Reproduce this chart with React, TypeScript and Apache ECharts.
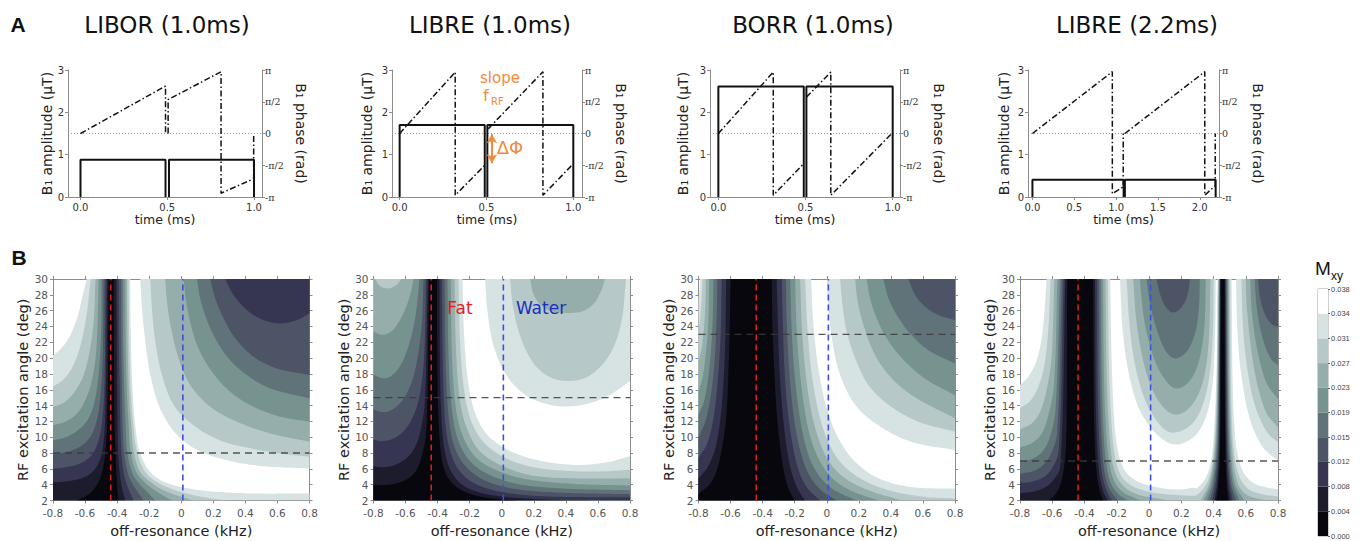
import React, { useEffect, useRef } from 'react';
import * as echarts from 'echarts';

// ---------- colour levels (Mxy) ----------
const BAND_COLORS = ['#07070d', '#1d1c2d', '#363552', '#4c5466', '#5f7379', '#77938f', '#95aeab', '#b6c9c8', '#d7e2e2', '#ffffff'];
const CBAR_LABELS = ['0.000', '0.004', '0.008', '0.012', '0.015', '0.019', '0.023', '0.027', '0.031', '0.034', '0.038'];

// ---------- panel A : pulse shapes ----------
const PANEL_TITLES = ['LIBOR (1.0ms)', 'LIBRE (1.0ms)', 'BORR (1.0ms)', 'LIBRE (2.2ms)'];
const TIME_RANGES = [[-0.072, 1.046], [-0.044, 1.05], [-0.048, 1.042], [-0.053, 2.23]];
const TIME_TICKS = [[0, 0.5, 1], [0, 0.5, 1], [0, 0.5, 1], [0, 0.5, 1, 1.5, 2]];
const PHASE_TICK_LABELS: Record<string, string> = { '-1': '-π', '-0.5': '-π/2', '0': '0', '0.5': 'π/2', '1': 'π' };

// amplitude (µT) vs time (ms)
const liborAmp = [[0, 0], [0, 0.88], [0.49, 0.88], [0.49, 0], [0.5, '-'], [0.51, 0], [0.51, 0.88], [1.0, 0.88], [1.0, 0]];
const libre1Amp = [[0, 0], [0, 1.7], [0.49, 1.7], [0.49, 0], [0.5, '-'], [0.505, 0], [0.505, 1.7], [1.0, 1.7], [1.0, 0]];
const borrAmp = [[0, 0], [0, 2.61], [0.49, 2.61], [0.49, 0], [0.5, '-'], [0.505, 0], [0.505, 2.61], [1.0, 2.61], [1.0, 0]];
const libre2Amp = [[0, 0], [0, 0.41], [1.09, 0.41], [1.09, 0], [1.1, '-'], [1.105, 0], [1.105, 0.41], [2.19, 0.41], [2.19, 0]];
// phase (units of π) vs time (ms)
const liborPhase = [[0, 0], [0.49, 0.747], [0.49, 0], [0.5, '-'], [0.505, 0], [0.505, 0.533], [0.81, 0.973], [0.81, -0.94], [0.998, -0.713], [0.998, 0]];
const libre1Phase = [[0, 0], [0.32, 0.967], [0.32, -0.973], [0.487, -0.51], [0.5, '-'], [0.51, 0.073], [0.825, 0.973], [0.825, -0.973], [0.995, -0.49]];
const borrPhase = [[0, 0], [0.315, 0.967], [0.315, -0.973], [0.49, -0.473], [0.5, '-'], [0.505, 0.573], [0.645, 0.967], [0.645, -0.973], [0.995, 0]];
const libre2Phase = [[0, 0], [0.955, 0.973], [0.955, -0.947], [1.085, -0.84], [1.085, 0], [1.095, '-'], [1.105, 0], [2.06, 0.973], [2.06, -0.973], [2.185, -0.82], [2.185, 0]];
const AMPS = [liborAmp, libre1Amp, borrAmp, libre2Amp];
const PHASES = [liborPhase, libre1Phase, borrPhase, libre2Phase];
// orange annotations (time ms, phase/π)
const slopeArrow = [[0.492, 0.11], [0.789, 1.02]];
const deltaPhiArrow = [[0.531, -0.01], [0.531, -0.47]];

// ---------- panel B : contour maps ----------
// each row: [level k, x1, y1, x2, y2, ...] = boundary of region where Mxy < level k
// "trough" rows are closed along the bottom edge, "bowl" rows along the top-right corner
const liborTrough = [
  [9, -0.8, 20.3, -0.75, 21.2, -0.7, 22.6, -0.65, 25, -0.62, 27.5, -0.59, 30, -0.318, 30, -0.314, 22.1, -0.303, 15.7, -0.287, 11.5, -0.26, 8.2, -0.193, 5.6, -0.089, 4.2, 0.118, 3.3, 0.43, 2.9, 0.8, 2.9],
  [8, -0.8, 16.4, -0.74, 17.2, -0.68, 18.8, -0.63, 21.5, -0.59, 25.5, -0.565, 30, -0.328, 30, -0.324, 22.1, -0.314, 15.7, -0.299, 11.5, -0.276, 8.2, -0.224, 5.6, -0.141, 4.2, -0.006, 3.1, 0.16, 2.35, 0.285, 2],
  [7, -0.8, 13.8, -0.73, 14.4, -0.67, 15.6, -0.61, 17.8, -0.57, 21, -0.545, 25, -0.535, 30, -0.339, 30, -0.335, 22.1, -0.326, 15.7, -0.312, 11.5, -0.297, 8.2, -0.256, 5.6, -0.183, 4.2, -0.089, 3.1, 0.077, 2],
  [6, -0.8, 11.5, -0.72, 12, -0.65, 13, -0.6, 14.6, -0.56, 17, -0.53, 21, -0.515, 30, -0.349, 30, -0.347, 22.1, -0.339, 15.7, -0.328, 11.5, -0.316, 8.2, -0.281, 5.6, -0.224, 4.2, -0.152, 3.1, -0.058, 2],
  [5, -0.8, 9.6, -0.72, 10, -0.65, 10.8, -0.59, 12, -0.55, 13.8, -0.52, 17, -0.5, 23, -0.497, 30, -0.364, 30, -0.362, 22.1, -0.355, 15.7, -0.347, 11.5, -0.337, 8.2, -0.308, 5.6, -0.266, 4.2, -0.214, 3.1, -0.162, 2],
  [4, -0.8, 7.8, -0.72, 8.1, -0.64, 8.7, -0.58, 9.7, -0.54, 11.2, -0.51, 14, -0.49, 20, -0.484, 30, -0.376, 30, -0.374, 22.1, -0.37, 15.7, -0.366, 11.5, -0.357, 8.2, -0.335, 5.6, -0.308, 4.2, -0.272, 3.1, -0.235, 2],
  [3, -0.8, 6, -0.72, 6.2, -0.64, 6.6, -0.58, 7.3, -0.535, 8.5, -0.5, 11, -0.48, 16, -0.472, 30, -0.391, 30, -0.389, 22.1, -0.384, 15.7, -0.38, 11.5, -0.374, 8.2, -0.36, 5.6, -0.343, 4.2, -0.322, 3.1, -0.297, 2],
  [2, -0.8, 4.3, -0.72, 4.4, -0.64, 4.7, -0.58, 5.2, -0.53, 6.2, -0.495, 8, -0.475, 12, -0.462, 30, -0.405, 30, -0.403, 22.1, -0.4, 15.7, -0.398, 11.5, -0.395, 8.2, -0.385, 5.6, -0.376, 4.2, -0.364, 3.1, -0.349, 2],
  [1, -0.65, 2, -0.6, 2.5, -0.55, 3.3, -0.51, 4.6, -0.48, 7, -0.462, 12, -0.452, 30, -0.422, 30, -0.42, 22.1, -0.418, 15.7, -0.416, 11.5, -0.411, 8.2, -0.405, 5.6, -0.401, 4.2, -0.397, 3.1, -0.391, 2],
];
const liborBowl = [
  [9, -0.256, 30, -0.245, 26.3, -0.224, 22.1, -0.193, 17.9, -0.131, 13.6, -0.027, 10.3, 0.118, 8.2, 0.326, 6.9, 0.534, 6.3, 0.8, 6.05],
  [8, -0.193, 30, -0.183, 26.3, -0.162, 22.1, -0.121, 17.9, -0.048, 14.1, 0.077, 11.5, 0.243, 9.6, 0.43, 8.6, 0.617, 7.95, 0.8, 7.53],
  [7, -0.1, 30, -0.089, 27.1, -0.064, 23.8, -0.017, 20, 0.056, 16.6, 0.181, 13.85, 0.347, 11.96, 0.555, 10.48, 0.8, 9.43],
  [6, 0.015, 30, 0.031, 27.1, 0.06, 24.2, 0.108, 21.2, 0.191, 18.3, 0.305, 15.75, 0.451, 13.85, 0.617, 12.6, 0.8, 11.96],
  [5, 0.098, 30, 0.118, 27.55, 0.156, 25.03, 0.212, 22.5, 0.295, 19.97, 0.409, 17.86, 0.555, 16.17, 0.8, 14.91],
  [4, 0.181, 30, 0.212, 27.55, 0.264, 25.03, 0.337, 22.5, 0.451, 20.18, 0.596, 18.7, 0.8, 17.86],
  [3, 0.274, 30, 0.326, 27.98, 0.409, 26.08, 0.513, 24.81, 0.617, 24.39, 0.721, 24.81, 0.8, 25.66],
];
const libre1Trough = [
  [9, -0.8, 30, -0.245, 30, -0.235, 23, -0.21, 17, -0.165, 13, -0.09, 10.3, 0.03, 8.5, 0.2, 7.2, 0.45, 6.5, 0.65, 6.8, 0.8, 7.6],
  [8, -0.8, 30, -0.27, 30, -0.26, 22, -0.235, 16, -0.19, 12, -0.11, 9.3, 0.02, 7.4, 0.2, 6.2, 0.45, 5.7, 0.65, 5.7, 0.8, 5.9],
  [7, -0.8, 30, -0.79, 30, -0.76, 29.1, -0.71, 28.8, -0.66, 29.2, -0.625, 30, -0.295, 30, -0.285, 21, -0.26, 14.5, -0.215, 11, -0.14, 8.3, -0.01, 6.5, 0.18, 5.2, 0.45, 4.8, 0.8, 4.8],
  [6, -0.8, 23.4, -0.76, 23, -0.71, 23.1, -0.66, 24, -0.6, 26.3, -0.565, 28.5, -0.551, 30, -0.318, 30, -0.31, 20, -0.285, 13.5, -0.24, 10, -0.16, 7.4, -0.03, 5.8, 0.15, 4.7, 0.45, 4.1, 0.8, 3.9],
  [5, -0.8, 17.9, -0.75, 17.5, -0.7, 17.6, -0.64, 18.8, -0.59, 21, -0.545, 24.5, -0.522, 28, -0.513, 30, -0.339, 30, -0.33, 19, -0.305, 12.5, -0.26, 9, -0.18, 6.6, -0.05, 5, 0.12, 4, 0.4, 3.5, 0.8, 3.3],
  [4, -0.8, 13.5, -0.75, 13.2, -0.7, 13.3, -0.63, 14.4, -0.57, 16.5, -0.53, 19.5, -0.5, 24, -0.488, 30, -0.357, 30, -0.348, 18, -0.325, 11.5, -0.28, 8, -0.2, 5.8, -0.08, 4.3, 0.1, 3.4, 0.35, 3, 0.8, 2.8],
  [3, -0.8, 9.7, -0.75, 9.5, -0.69, 9.7, -0.62, 10.6, -0.56, 12.3, -0.515, 15, -0.485, 20, -0.472, 30, -0.374, 30, -0.365, 17, -0.345, 10.5, -0.3, 7, -0.23, 5, -0.12, 3.7, 0.05, 2.9, 0.3, 2.5, 0.8, 2.4],
  [2, -0.8, 6.3, -0.74, 6.2, -0.68, 6.4, -0.61, 7.1, -0.55, 8.4, -0.51, 10.5, -0.48, 14.5, -0.461, 30, -0.389, 30, -0.383, 16, -0.365, 9.5, -0.33, 6.3, -0.27, 4.4, -0.17, 3.2, 0, 2.5, 0.3, 2.1, 0.6, 2],
  [1, -0.8, 4, -0.74, 3.95, -0.67, 4.1, -0.6, 4.6, -0.54, 5.6, -0.5, 7.5, -0.47, 11, -0.453, 30, -0.405, 30, -0.4, 16, -0.385, 9, -0.36, 6, -0.31, 4.2, -0.22, 3, -0.08, 2.3, 0.1, 2],
];
const libre1Bowl = [
  [9, -0.104, 30, -0.09, 26, -0.05, 21.5, 0.03, 17.8, 0.15, 15.3, 0.3, 14.1, 0.42, 13.9, 0.55, 14.3, 0.67, 15.3, 0.76, 16.5, 0.8, 17.1],
  [8, 0.052, 30, 0.07, 26.5, 0.12, 22.5, 0.2, 19.3, 0.3, 17.6, 0.41, 17.1, 0.52, 17.5, 0.62, 19, 0.7, 21.5, 0.75, 25, 0.775, 30],
  [7, 0.177, 30, 0.2, 28, 0.26, 26.4, 0.34, 25.8, 0.42, 25.7, 0.5, 25.9, 0.57, 26.8, 0.62, 28.5, 0.644, 30],
];
const borrTrough = [
  [9, -0.8, 27.5, -0.793, 28.8, -0.79, 30, -0.098, 30, -0.083, 24.2, -0.052, 18.7, 0, 13.6, 0.073, 9.85, 0.177, 6.9, 0.322, 4.8, 0.53, 3.7, 0.8, 3.5],
  [8, -0.8, 23.5, -0.788, 25.5, -0.78, 28, -0.775, 30, -0.135, 30, -0.122, 24.2, -0.098, 18.7, -0.056, 13.6, 0, 9.85, 0.083, 6.9, 0.208, 4.8, 0.385, 3.3, 0.613, 2.46, 0.8, 2.25],
  [7, -0.8, 19.5, -0.78, 21.3, -0.765, 24, -0.757, 27, -0.754, 30, -0.166, 30, -0.156, 24.2, -0.135, 18.7, -0.1, 13.6, -0.052, 9.85, 0.015, 6.9, 0.114, 4.8, 0.26, 3.3, 0.468, 2],
  [6, -0.8, 15.8, -0.775, 17.5, -0.755, 20.5, -0.74, 24, -0.733, 30, -0.197, 30, -0.189, 24.2, -0.17, 18.7, -0.139, 13.6, -0.1, 9.85, -0.041, 6.9, 0.035, 4.8, 0.146, 3.3, 0.322, 2],
  [5, -0.8, 12.8, -0.765, 14.6, -0.74, 17.5, -0.72, 21.5, -0.71, 26, -0.707, 30, -0.228, 30, -0.22, 24.2, -0.204, 18.7, -0.176, 13.6, -0.143, 9.85, -0.098, 6.9, -0.035, 4.8, 0.048, 3.3, 0.187, 2],
  [4, -0.8, 10, -0.76, 11.8, -0.725, 15, -0.7, 19.5, -0.687, 25, -0.682, 30, -0.255, 30, -0.249, 24.2, -0.235, 18.7, -0.212, 13.6, -0.183, 9.85, -0.145, 6.9, -0.098, 4.8, -0.035, 3.3, 0.062, 2],
  [3, -0.8, 7.4, -0.75, 9, -0.71, 12, -0.68, 17, -0.662, 23, -0.655, 30, -0.28, 30, -0.274, 24.2, -0.264, 18.7, -0.245, 13.6, -0.22, 9.85, -0.191, 6.9, -0.156, 4.8, -0.11, 3.3, -0.041, 2],
  [2, -0.8, 4.8, -0.74, 6.3, -0.69, 9, -0.655, 14, -0.635, 21, -0.627, 30, -0.312, 30, -0.305, 24.2, -0.295, 18.7, -0.278, 13.6, -0.258, 9.85, -0.235, 6.9, -0.208, 4.8, -0.176, 3.3, -0.135, 2],
  [1, -0.8, 2.8, -0.72, 4.3, -0.67, 7, -0.63, 12, -0.61, 20, -0.6, 30, -0.343, 30, -0.339, 24.2, -0.328, 18.7, -0.314, 13.6, -0.297, 9.85, -0.278, 6.9, -0.258, 4.8, -0.235, 3.3, -0.201, 2],
];
const borrBowl = [
  [9, 0, 30, 0.011, 26.3, 0.035, 22.1, 0.083, 17.9, 0.177, 14.1, 0.322, 11.5, 0.53, 9.4, 0.8, 8.4],
  [8, 0.083, 30, 0.098, 26.7, 0.125, 23.3, 0.177, 20, 0.26, 16.6, 0.385, 14.1, 0.572, 11.96, 0.8, 10.7],
  [7, 0.177, 30, 0.193, 27.1, 0.229, 24.2, 0.291, 20.8, 0.385, 17.9, 0.53, 15.3, 0.8, 12.4],
  [6, 0.249, 30, 0.27, 27.55, 0.312, 25, 0.374, 22.5, 0.468, 20, 0.613, 17.4, 0.8, 15.3],
  [5, 0.353, 30, 0.385, 27.55, 0.437, 25.45, 0.52, 23.1, 0.634, 21, 0.8, 19.3],
  [4, 0.509, 30, 0.551, 28, 0.613, 26.5, 0.696, 25.45, 0.8, 24.8],
];
const libre2Trough = [
  [9, -0.8, 16.6, -0.75, 17.6, -0.7, 19.5, -0.67, 22, -0.65, 25.5, -0.635, 30, -0.24, 30, -0.232, 20, -0.215, 12, -0.19, 8, -0.15, 5.8, -0.08, 4.5, 0, 3.9, 0.1, 3.5, 0.2, 3.4, 0.3, 3.5, 0.35, 2],
  [8, -0.8, 13.7, -0.74, 14.5, -0.69, 16.2, -0.65, 19, -0.625, 23.5, -0.61, 30, -0.255, 30, -0.248, 19, -0.232, 11.5, -0.21, 7.5, -0.175, 5.2, -0.11, 3.9, -0.02, 3.2, 0.1, 2.8, 0.25, 2.6, 0.33, 2.5, 0.36, 2],
  [7, -0.8, 11, -0.73, 11.7, -0.68, 13, -0.64, 15.5, -0.605, 20, -0.587, 30, -0.27, 30, -0.263, 18, -0.248, 11, -0.228, 7, -0.195, 4.8, -0.14, 3.5, -0.06, 2.7, 0.04, 2.3, 0.12, 2],
  [6, -0.8, 8.7, -0.73, 9.2, -0.67, 10.3, -0.63, 12.3, -0.59, 16.5, -0.568, 30, -0.285, 30, -0.279, 17.5, -0.265, 10.5, -0.245, 6.6, -0.215, 4.4, -0.165, 3.1, -0.1, 2.4, -0.05, 2],
  [5, -0.8, 6.9, -0.72, 7.3, -0.66, 8.2, -0.615, 10, -0.58, 13.5, -0.552, 30, -0.298, 30, -0.293, 17, -0.28, 10, -0.262, 6.2, -0.235, 4.1, -0.19, 2.8, -0.14, 2.1, -0.13, 2],
  [4, -0.8, 5.4, -0.72, 5.7, -0.66, 6.4, -0.61, 7.8, -0.57, 10.5, -0.54, 30, -0.31, 30, -0.305, 16.5, -0.294, 9.6, -0.278, 5.9, -0.253, 3.8, -0.215, 2.5, -0.19, 2],
  [3, -0.8, 4.2, -0.72, 4.4, -0.65, 5, -0.6, 6.1, -0.56, 8.3, -0.529, 30, -0.322, 30, -0.318, 16, -0.308, 9.2, -0.293, 5.6, -0.27, 3.6, -0.24, 2.3, -0.225, 2],
  [2, -0.8, 2.9, -0.72, 3.1, -0.65, 3.6, -0.6, 4.4, -0.55, 6.3, -0.519, 30, -0.335, 30, -0.331, 15.5, -0.322, 8.8, -0.308, 5.3, -0.288, 3.4, -0.262, 2.2, -0.255, 2],
  [1, -0.62, 2, -0.58, 2.8, -0.55, 4, -0.525, 6.5, -0.512, 11, -0.507, 30, -0.346, 30, -0.343, 15, -0.335, 8.4, -0.322, 5, -0.305, 3.2, -0.285, 2],
  // second (narrow) trough near +0.46 kHz
  [9, 0.2, 2, 0.3, 3.6, 0.35, 4.8, 0.385, 7, 0.4, 10, 0.413, 15, 0.42, 20, 0.425, 30, 0.512, 30, 0.52, 16, 0.54, 9, 0.58, 5.8, 0.64, 4.3, 0.72, 3.7, 0.8, 3.4],
  [8, 0.25, 2, 0.33, 3.3, 0.37, 4.8, 0.4, 8, 0.418, 15, 0.428, 30, 0.503, 30, 0.51, 15, 0.528, 8, 0.565, 4.8, 0.62, 3.4, 0.7, 2.8, 0.8, 2.5],
  [7, 0.32, 2, 0.37, 4, 0.405, 8, 0.422, 15, 0.431, 30, 0.496, 30, 0.502, 15, 0.518, 8, 0.55, 4.2, 0.6, 2.8, 0.68, 2.2, 0.75, 2],
  [6, 0.34, 2, 0.38, 4, 0.412, 8, 0.426, 15, 0.434, 30, 0.49, 30, 0.496, 15, 0.508, 8, 0.535, 4, 0.59, 2],
  [5, 0.36, 2, 0.392, 4, 0.418, 8, 0.43, 15, 0.437, 30, 0.485, 30, 0.49, 15, 0.5, 8, 0.522, 4, 0.56, 2],
  [4, 0.378, 2, 0.402, 4, 0.424, 8, 0.433, 15, 0.439, 30, 0.48, 30, 0.485, 15, 0.493, 8, 0.51, 4, 0.54, 2],
  [3, 0.393, 2, 0.412, 4, 0.43, 8, 0.437, 15, 0.441, 30, 0.476, 30, 0.48, 15, 0.486, 8, 0.5, 4, 0.52, 2],
  [2, 0.406, 2, 0.422, 4, 0.435, 8, 0.44, 15, 0.443, 30, 0.472, 30, 0.475, 15, 0.48, 8, 0.49, 4, 0.505, 2],
  [1, 0.418, 2, 0.43, 4, 0.44, 8, 0.444, 15, 0.446, 30, 0.468, 30, 0.47, 15, 0.474, 8, 0.482, 4, 0.492, 2],
];
const libre2Bowl = [
  [9, -0.18, 30, -0.165, 24, -0.13, 18.5, -0.07, 14, 0, 11.5, 0.08, 9.8, 0.15, 9.1, 0.22, 9.3, 0.3, 10.5, 0.36, 13, 0.395, 17, 0.41, 23, 0.414, 30],
  [8, -0.139, 30, -0.12, 24, -0.085, 19, -0.03, 15, 0.04, 12.3, 0.12, 10.7, 0.2, 10.8, 0.28, 12, 0.34, 14.5, 0.38, 18.5, 0.397, 24, 0.401, 30],
  [7, -0.098, 30, -0.08, 25, -0.045, 20.5, 0.01, 16.5, 0.08, 14, 0.15, 12.9, 0.22, 13.2, 0.29, 14.8, 0.34, 17.5, 0.37, 22, 0.381, 30],
  [6, -0.057, 30, -0.035, 25.5, 0, 22, 0.05, 19, 0.11, 17, 0.16, 16.2, 0.22, 16.5, 0.28, 18, 0.32, 20.5, 0.345, 24.5, 0.352, 30],
  [5, -0.016, 30, 0.01, 26.5, 0.05, 23.5, 0.1, 21, 0.15, 20, 0.2, 20.2, 0.25, 21.3, 0.29, 23.5, 0.31, 26.5, 0.315, 30],
  [4, 0.046, 30, 0.07, 28, 0.1, 26.6, 0.14, 25.8, 0.18, 26, 0.22, 27, 0.245, 28.5, 0.253, 30],
  [9, 0.54, 30, 0.545, 25, 0.56, 20, 0.59, 15.5, 0.63, 12, 0.69, 9.2, 0.75, 7.8, 0.8, 7.1],
  [8, 0.573, 30, 0.578, 26, 0.59, 22, 0.615, 18, 0.65, 14.5, 0.7, 11.8, 0.75, 10.2, 0.8, 9.4],
  [7, 0.6, 30, 0.605, 27, 0.62, 23.5, 0.645, 19.5, 0.68, 16, 0.73, 13, 0.8, 11.2],
  [6, 0.628, 30, 0.635, 26.5, 0.655, 23, 0.685, 19.8, 0.73, 16.8, 0.8, 14.8],
  [5, 0.655, 30, 0.665, 27, 0.685, 24.2, 0.72, 21.5, 0.76, 19.8, 0.8, 19.1],
  [4, 0.676, 30, 0.69, 27.5, 0.72, 25.5, 0.76, 24.3, 0.8, 23.9],
];
const TROUGHS = [liborTrough, libre1Trough, borrTrough, libre2Trough];
const BOWLS = [liborBowl, libre1Bowl, borrBowl, libre2Bowl];
const FREQ_RANGE = [-0.8, 0.8];
const ANGLE_RANGE = [2, 30];
const FAT_FREQ = -0.44;
const WATER_FREQ = 0.01;
const CHOSEN_ANGLES = [8, 15, 23, 7];

// ---------- layout ----------
const TOP_LAYOUT = [
  { left: 68, width: 194, cx: 167, ampGap: 14 },
  { left: 392, width: 190, cx: 490, ampGap: 18 },
  { left: 710, width: 190, cx: 813, ampGap: 20 },
  { left: 1028, width: 191, cx: 1137, ampGap: 17 },
];
const BOTTOM_LAYOUT = [
  { left: 53, width: 256.5 },
  { left: 373.5, width: 256.5 },
  { left: 698.5, width: 256.5 },
  { left: 1020, width: 258 },
];
const FONT = 'DejaVu Sans';
const ORANGE = '#f28a3a';
const AXIS_GRAY = '#8c8c8c';

type Region = { k: number; pts: number[] };
function buildRegions(trough: number[][], bowl: number[][]): Region[] {
  const out: Region[] = [];
  trough.forEach((r) => out.push({ k: r[0], pts: [FREQ_RANGE[0], ANGLE_RANGE[0], ...r.slice(1), FREQ_RANGE[1], ANGLE_RANGE[0]] }));
  bowl.forEach((r) => out.push({ k: r[0], pts: [...r.slice(1), FREQ_RANGE[1], ANGLE_RANGE[1]] }));
  out.sort((a, b) => b.k - a.k);
  return out;
}

// smooth drawing of a digitised closed outline (frame edges stay straight)
function smoothOutline(raw: number[], pix: number[][]): number[][] {
  const n = pix.length;
  const eps = 1e-6;
  const side = (i: number) => {
    const x = raw[2 * i], y = raw[2 * i + 1];
    return {
      l: Math.abs(x - FREQ_RANGE[0]) < eps, r: Math.abs(x - FREQ_RANGE[1]) < eps,
      b: Math.abs(y - ANGLE_RANGE[0]) < eps, t: Math.abs(y - ANGLE_RANGE[1]) < eps,
    };
  };
  const sides = pix.map((_, i) => side(i));
  const edgeSeg = (i: number, j: number) => {
    const a = sides[i], b = sides[j];
    return (a.l && b.l) || (a.r && b.r) || (a.b && b.b) || (a.t && b.t);
  };
  const dirs = pix.map((p, i) => {
    const prev = (i - 1 + n) % n, next = (i + 1) % n;
    const pe = edgeSeg(prev, i), ne = edgeSeg(i, next);
    let dx: number, dy: number;
    if (pe && !ne) { dx = pix[next][0] - p[0]; dy = pix[next][1] - p[1]; }
    else if (ne && !pe) { dx = p[0] - pix[prev][0]; dy = p[1] - pix[prev][1]; }
    else { dx = pix[next][0] - pix[prev][0]; dy = pix[next][1] - pix[prev][1]; }
    const len = Math.hypot(dx, dy) || 1;
    return [dx / len, dy / len];
  });
  const out: number[][] = [];
  for (let i = 0; i < n; i++) {
    const j = (i + 1) % n;
    const p0 = pix[i], p1 = pix[j];
    out.push(p0);
    if (edgeSeg(i, j)) continue;
    const L = Math.hypot(p1[0] - p0[0], p1[1] - p0[1]);
    if (L < 2) continue;
    const m0 = [dirs[i][0] * L, dirs[i][1] * L];
    const m1 = [dirs[j][0] * L, dirs[j][1] * L];
    const steps = Math.min(24, Math.ceil(L / 3));
    for (let s = 1; s < steps; s++) {
      const t = s / steps, t2 = t * t, t3 = t2 * t;
      const h00 = 2 * t3 - 3 * t2 + 1, h10 = t3 - 2 * t2 + t, h01 = -2 * t3 + 3 * t2, h11 = t3 - t2;
      out.push([
        h00 * p0[0] + h10 * m0[0] + h01 * p1[0] + h11 * m1[0],
        h00 * p0[1] + h10 * m0[1] + h01 * p1[1] + h11 * m1[1],
      ]);
    }
  }
  return out;
}

function buildOption() {
  const grid: any[] = [];
  const xAxis: any[] = [];
  const yAxis: any[] = [];
  const series: any[] = [];
  const graphic: any[] = [];

  const tickLabel = { fontFamily: FONT, fontSize: 10, color: '#333' };
  const line = (show = true) => ({ show, onZero: false, lineStyle: { color: AXIS_GRAY, width: 1 } });

  // ---- top row ----
  TOP_LAYOUT.forEach((L, i) => {
    grid.push({ left: L.left, top: 70, width: L.width, height: 127, containLabel: false, outerBoundsMode: 'none' });
    xAxis.push({
      type: 'value', gridIndex: i, min: TIME_RANGES[i][0], max: TIME_RANGES[i][1],
      name: 'time (ms)', nameLocation: 'middle', nameGap: 16,
      nameTextStyle: { fontFamily: FONT, fontSize: 12.5, color: '#222' },
      axisLine: line(),
      axisTick: { show: true, customValues: TIME_TICKS[i], length: 3, lineStyle: { color: AXIS_GRAY } },
      axisLabel: { customValues: TIME_TICKS[i], formatter: (v: number) => v.toFixed(1), margin: 5, ...tickLabel },
      splitLine: { show: false },
    });
    yAxis.push({
      type: 'value', gridIndex: i, min: 0, max: 3, interval: 1, position: 'left',
      name: 'B₁ amplitude (μT)', nameLocation: 'middle', nameGap: L.ampGap,
      nameTextStyle: { fontFamily: FONT, fontSize: 14, color: '#222' },
      axisLine: line(),
      axisTick: { show: true, length: 3, lineStyle: { color: AXIS_GRAY } },
      axisLabel: { margin: 4, ...tickLabel },
      splitLine: { show: false },
    });
    yAxis.push({
      type: 'value', gridIndex: i, min: -1, max: 1, interval: 0.5, position: 'right',
      name: 'B₁ phase (rad)', nameLocation: 'middle', nameGap: 32, nameRotate: -90,
      nameTextStyle: { fontFamily: FONT, fontSize: 14, color: '#222' },
      axisLine: line(),
      axisTick: { show: true, length: 3, lineStyle: { color: AXIS_GRAY } },
      axisLabel: { margin: 3, fontFamily: 'DejaVu Serif', fontSize: 9.5, color: '#333', formatter: (v: number) => PHASE_TICK_LABELS[String(Math.round(v * 2) / 2)] ?? '' },
      splitLine: { show: false },
    });
    series.push({
      type: 'line', xAxisIndex: i, yAxisIndex: 2 * i + 1, silent: true, symbol: 'none', z: 2,
      data: [[TIME_RANGES[i][0], 0], [TIME_RANGES[i][1], 0]],
      lineStyle: { color: '#9a9a9a', width: 1, type: [1, 2] },
    });
    series.push({
      type: 'line', xAxisIndex: i, yAxisIndex: 2 * i, silent: true, symbol: 'none', z: 3,
      data: AMPS[i], connectNulls: false,
      lineStyle: { color: '#111', width: 2 },
    });
    const phaseSeries: any = {
      type: 'line', xAxisIndex: i, yAxisIndex: 2 * i + 1, silent: true, symbol: 'none', z: 4,
      data: PHASES[i], connectNulls: false, clip: false,
      lineStyle: { color: '#111', width: 1.5, type: [6, 2.5, 1.5, 2.5] },
    };
    if (i === 1) {
      phaseSeries.markLine = {
        silent: true, symbol: ['arrow', 'arrow'], symbolSize: [8, 9], label: { show: false },
        lineStyle: { color: ORANGE, width: 2, type: 'solid' },
        data: [
          [{ coord: slopeArrow[0] }, { coord: slopeArrow[1] }],
          [{ coord: deltaPhiArrow[0] }, { coord: deltaPhiArrow[1] }],
        ],
      };
    }
    series.push(phaseSeries);
    graphic.push({ type: 'text', x: L.cx, y: 25, style: { text: PANEL_TITLES[i], fontFamily: FONT, fontSize: 23, fill: '#111', align: 'center', verticalAlign: 'middle' } });
  });

  // ---- bottom row ----
  BOTTOM_LAYOUT.forEach((L, j) => {
    const g = 4 + j;
    grid.push({ left: L.left, top: 279, width: L.width, height: 221.5, containLabel: false, outerBoundsMode: 'none' });
    const xi = xAxis.length;
    xAxis.push({
      type: 'value', gridIndex: g, min: FREQ_RANGE[0], max: FREQ_RANGE[1], interval: 0.2,
      name: 'off-resonance (kHz)', nameLocation: 'middle', nameGap: 23,
      nameTextStyle: { fontFamily: FONT, fontSize: 14.5, color: '#222' },
      axisLine: line(),
      axisTick: { show: true, length: 3, lineStyle: { color: AXIS_GRAY } },
      axisLabel: { fontFamily: FONT, fontSize: 10.5, color: '#555', margin: 7, formatter: (v: number) => (Math.abs(v) < 1e-9 ? '0' : v.toFixed(1)) },
      splitLine: { show: false },
    });
    xAxis.push({
      type: 'value', gridIndex: g, min: FREQ_RANGE[0], max: FREQ_RANGE[1], interval: 0.2, position: 'top',
      axisLine: line(),
      axisTick: { show: true, length: 3, lineStyle: { color: AXIS_GRAY } },
      axisLabel: { show: false }, splitLine: { show: false },
    });
    const yi = yAxis.length;
    yAxis.push({
      type: 'value', gridIndex: g, min: ANGLE_RANGE[0], max: ANGLE_RANGE[1], interval: 2,
      name: 'RF excitation angle (deg)', nameLocation: 'middle', nameGap: 22,
      nameTextStyle: { fontFamily: FONT, fontSize: 14.5, color: '#222' },
      axisLine: line(),
      axisTick: { show: true, length: 3, lineStyle: { color: AXIS_GRAY } },
      axisLabel: { fontFamily: FONT, fontSize: 10.5, color: '#555', margin: 5 },
      splitLine: { show: false },
    });
    yAxis.push({
      type: 'value', gridIndex: g, min: ANGLE_RANGE[0], max: ANGLE_RANGE[1], interval: 2, position: 'right',
      axisLine: line(),
      axisTick: { show: true, length: 3, lineStyle: { color: AXIS_GRAY } },
      axisLabel: { show: false }, splitLine: { show: false },
    });
    const regions = buildRegions(TROUGHS[j], BOWLS[j]);
    series.push({
      type: 'custom', xAxisIndex: xi, yAxisIndex: yi, silent: true, clip: true, z: 1,
      data: regions.map((r) => [r.pts[0], r.pts[1]]),
      renderItem: (params: any, api: any) => {
        const r = regions[params.dataIndex];
        const pix: number[][] = [];
        for (let p = 0; p < r.pts.length; p += 2) pix.push(api.coord([r.pts[p], r.pts[p + 1]]));
        return { type: 'polygon', shape: { points: smoothOutline(r.pts, pix) }, style: { fill: BAND_COLORS[r.k - 1] } };
      },
    });
    series.push({
      type: 'line', xAxisIndex: xi, yAxisIndex: yi, silent: true, symbol: 'none', z: 5,
      data: [[FAT_FREQ, ANGLE_RANGE[0]], [FAT_FREQ, ANGLE_RANGE[1]]],
      lineStyle: { color: '#e01b1b', width: 1.6, type: [6, 4] },
    });
    series.push({
      type: 'line', xAxisIndex: xi, yAxisIndex: yi, silent: true, symbol: 'none', z: 5,
      data: [[WATER_FREQ, ANGLE_RANGE[0]], [WATER_FREQ, ANGLE_RANGE[1]]],
      lineStyle: { color: '#3a4fe6', width: 1.6, type: [6, 4] },
    });
    series.push({
      type: 'line', xAxisIndex: xi, yAxisIndex: yi, silent: true, symbol: 'none', z: 5,
      data: [[FREQ_RANGE[0], CHOSEN_ANGLES[j]], [FREQ_RANGE[1], CHOSEN_ANGLES[j]]],
      lineStyle: { color: '#3a3a3a', width: 1.4, type: [7, 5], opacity: 0.85 },
    });
  });

  // ---- colour bar ----
  grid.push({ left: 1318, top: 289, width: 10, height: 247, show: true, borderColor: '#888', borderWidth: 0.8, containLabel: false, outerBoundsMode: 'none' });
  const cx = xAxis.length;
  xAxis.push({ type: 'value', gridIndex: 8, min: 0, max: 1, show: false });
  const cy = yAxis.length;
  yAxis.push({
    type: 'value', gridIndex: 8, min: 0, max: 10, interval: 1, position: 'right',
    axisLine: { show: false, onZero: false }, axisTick: { show: true, length: 2, lineStyle: { color: '#666' } },
    axisLabel: { fontFamily: 'Liberation Sans', fontSize: 7.5, color: '#444', margin: 3, formatter: (v: number) => CBAR_LABELS[Math.round(v)] },
    splitLine: { show: false },
  });
  series.push({
    type: 'custom', xAxisIndex: cx, yAxisIndex: cy, silent: true, z: 1,
    data: BAND_COLORS.map((_, i) => [0.5, i + 0.5]),
    renderItem: (params: any, api: any) => {
      const i = params.dataIndex;
      const p0 = api.coord([0, i]);
      const p1 = api.coord([1, i + 1]);
      return { type: 'rect', shape: { x: p0[0], y: p1[1], width: p1[0] - p0[0], height: p0[1] - p1[1] }, style: { fill: BAND_COLORS[i] } };
    },
  });

  // ---- texts ----
  graphic.push(
    { type: 'text', x: 18, y: 24, style: { text: 'A', fontFamily: 'Liberation Sans', fontWeight: 'bold', fontSize: 21, fill: '#111', align: 'center', verticalAlign: 'middle' } },
    { type: 'text', x: 19, y: 257, style: { text: 'B', fontFamily: 'Liberation Sans', fontWeight: 'bold', fontSize: 21, fill: '#111', align: 'center', verticalAlign: 'middle' } },
    { type: 'text', x: 500, y: 78, style: { text: 'slope', fontFamily: FONT, fontSize: 15, fill: ORANGE, align: 'center', verticalAlign: 'middle' } },
    { type: 'text', x: 483, y: 95, style: { text: 'f', fontFamily: FONT, fontSize: 16, fill: ORANGE, align: 'left', verticalAlign: 'middle' } },
    { type: 'text', x: 491, y: 101, style: { text: 'RF', fontFamily: FONT, fontSize: 10, fill: ORANGE, align: 'left', verticalAlign: 'middle' } },
    { type: 'text', x: 510, y: 147, style: { text: 'ΔΦ', fontFamily: FONT, fontSize: 18, fill: ORANGE, align: 'center', verticalAlign: 'middle' } },
    { type: 'text', x: 460, y: 308, z: 10, style: { text: 'Fat', fontFamily: FONT, fontSize: 17, fill: '#e41e1e', align: 'center', verticalAlign: 'middle' } },
    { type: 'text', x: 541, y: 308, z: 10, style: { text: 'Water', fontFamily: FONT, fontSize: 17, fill: '#1b2fbd', align: 'center', verticalAlign: 'middle' } },
    { type: 'text', x: 1315, y: 268, style: { text: 'M', fontFamily: 'Liberation Sans', fontSize: 19, fill: '#111', align: 'left', verticalAlign: 'middle' } },
    { type: 'text', x: 1331, y: 276, style: { text: 'xy', fontFamily: 'Liberation Sans', fontSize: 12, fill: '#111', align: 'left', verticalAlign: 'middle' } },
  );

  return { animation: false, backgroundColor: '#fff', grid, xAxis, yAxis, series, graphic };
}

export default function App() {
  const ref = useRef<HTMLDivElement>(null);
  useEffect(() => {
    document.body.style.margin = '0';
    const chart = echarts.init(ref.current!, null, { renderer: 'svg' });
    chart.setOption(buildOption() as any);
    return () => chart.dispose();
  }, []);
  return <div ref={ref} style={{ width: 1362, height: 541 }} />;
}
